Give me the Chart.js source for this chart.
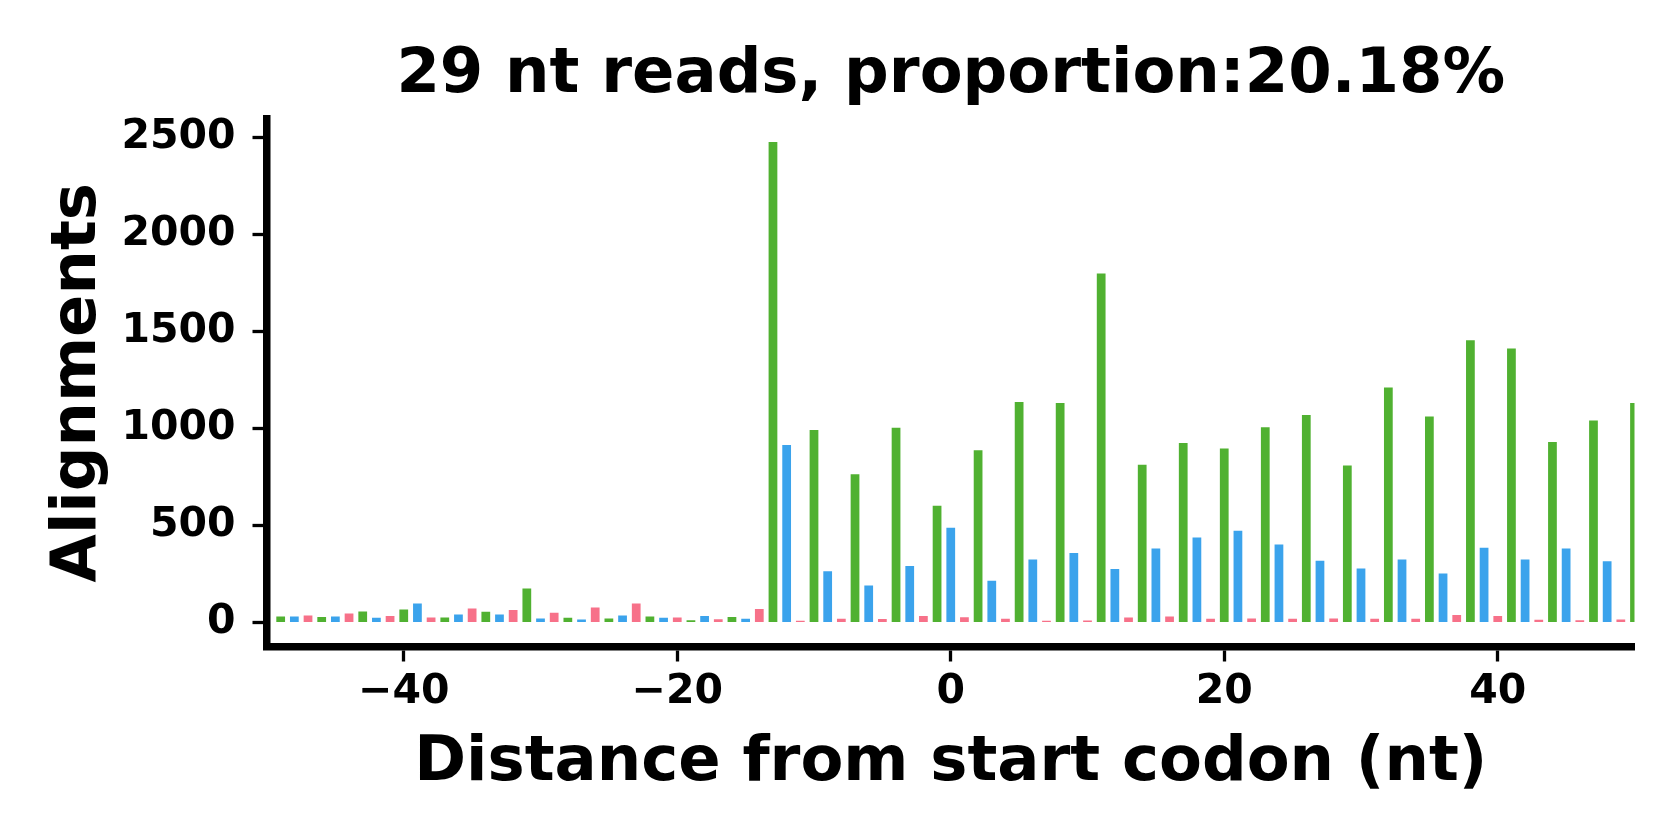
<!DOCTYPE html>
<html>
<head>
<meta charset="utf-8">
<script src="https://cdn.jsdelivr.net/npm/chart.js@4/dist/chart.umd.min.js"></script>
<style>
  html, body { margin: 0; padding: 0; background: #fff; }
  #wrap { width: 1680px; height: 840px; }
</style>
</head>
<body>
<div id="wrap"><canvas id="c" width="1680" height="840"></canvas></div>
<script>
// distance from start codon (nt)
var positions = [
  -49, -48, -47, -46, -45, -44, -43, -42, -41, -40,
  -39, -38, -37, -36, -35, -34, -33, -32, -31, -30,
  -29, -28, -27, -26, -25, -24, -23, -22, -21, -20,
  -19, -18, -17, -16, -15, -14, -13, -12, -11, -10,
  -9, -8, -7, -6, -5, -4, -3, -2, -1, 0,
  1, 2, 3, 4, 5, 6, 7, 8, 9, 10,
  11, 12, 13, 14, 15, 16, 17, 18, 19, 20,
  21, 22, 23, 24, 25, 26, 27, 28, 29, 30,
  31, 32, 33, 34, 35, 36, 37, 38, 39, 40,
  41, 42, 43, 44, 45, 46, 47, 48, 49, 50
];
// alignments per position
var alignments = [
  31, 31, 36, 29, 31, 46, 57, 24, 33, 67,
  98, 26, 26, 41, 72, 55, 41, 65, 175, 21,
  51, 24, 15, 77, 21, 36, 98, 31, 24, 26,
  12, 34, 17, 29, 19, 70, 2475, 914, 9, 992,
  264, 20, 764, 191, 18, 1003, 291, 34, 602, 488,
  27, 887, 215, 20, 1136, 325, 9, 1131, 358, 10,
  1797, 276, 26, 812, 381, 31, 925, 438, 19, 896,
  472, 21, 1006, 402, 19, 1069, 318, 21, 809, 278,
  19, 1210, 324, 19, 1061, 252, 39, 1454, 385, 34,
  1411, 324, 14, 930, 381, 12, 1040, 316, 15, 1131
];
var xTicks = [-40, -20, 0, 20, 40];
var yTicks = [0, 500, 1000, 1500, 2000, 2500];
var frameColors = ['#50b131', '#3ba3ec', '#f77189'];

var barColors = positions.map(function(p) {
  return frameColors[((p % 3) + 4) % 3];
});

var points = positions.map(function(p, i) { return {x: p, y: alignments[i]}; });

var tickFont = {family: 'DejaVu Sans', weight: 'bold', size: 41};
var bigFont = {family: 'DejaVu Sans', weight: 'bold', size: 62.5, lineHeight: 1};

Chart.defaults.color = '#000';

new Chart(document.getElementById('c'), {
  type: 'bar',
  data: {
    datasets: [{
      data: points,
      backgroundColor: barColors,
      borderWidth: 0,
      barPercentage: 0.64,
      categoryPercentage: 1,
      clip: 0
    }]
  },
  options: {
    responsive: false,
    devicePixelRatio: 1,
    animation: false,
    layout: {padding: {left: 0, right: 45.5, top: 0, bottom: 0}},
    plugins: {
      legend: {display: false},
      tooltip: {enabled: false},
      title: {
        display: true,
        text: '29 nt reads, proportion:20.18%',
        font: bigFont,
        color: '#000',
        fullSize: false,
        padding: {top: 44.75, bottom: 11.15}
      }
    },
    scales: {
      x: {
        type: 'linear',
        min: -50,
        max: 50,
        offset: false,
        afterBuildTicks: function(s) { s.ticks = xTicks.map(function(v) { return {value: v}; }); },
        afterFit: function(s) { s.height = 193; },
        grid: {offset: false, drawOnChartArea: false, drawTicks: true, tickLength: 14.5, tickWidth: 3.3, tickColor: '#000'},
        border: {display: true, width: 7.5, color: '#000'},
        ticks: {
          font: tickFont, color: '#000', padding: 6, maxRotation: 0,
          callback: function(v) { return v < 0 ? '\u2212' + Math.abs(v) : String(v); }
        },
        title: {display: true, text: 'Distance from start codon (nt)', font: bigFont, color: '#000', padding: {top: 0, bottom: 45}}
      },
      y: {
        min: -126,
        max: 2596,
        afterBuildTicks: function(s) { s.ticks = yTicks.map(function(v) { return {value: v}; }); },
        afterFit: function(s) { s.width = 267; },
        grid: {offset: false, drawOnChartArea: false, drawTicks: true, tickLength: 14.5, tickWidth: 3.3, tickColor: '#000'},
        border: {display: true, width: 7.5, color: '#000'},
        ticks: {font: tickFont, color: '#000', padding: 17, callback: function(v) { return String(v); }},
        title: {display: true, text: 'Alignments', font: bigFont, color: '#000', padding: {top: 47.75, bottom: 0}}
      }
    }
  }
});
</script>
</body>
</html>
